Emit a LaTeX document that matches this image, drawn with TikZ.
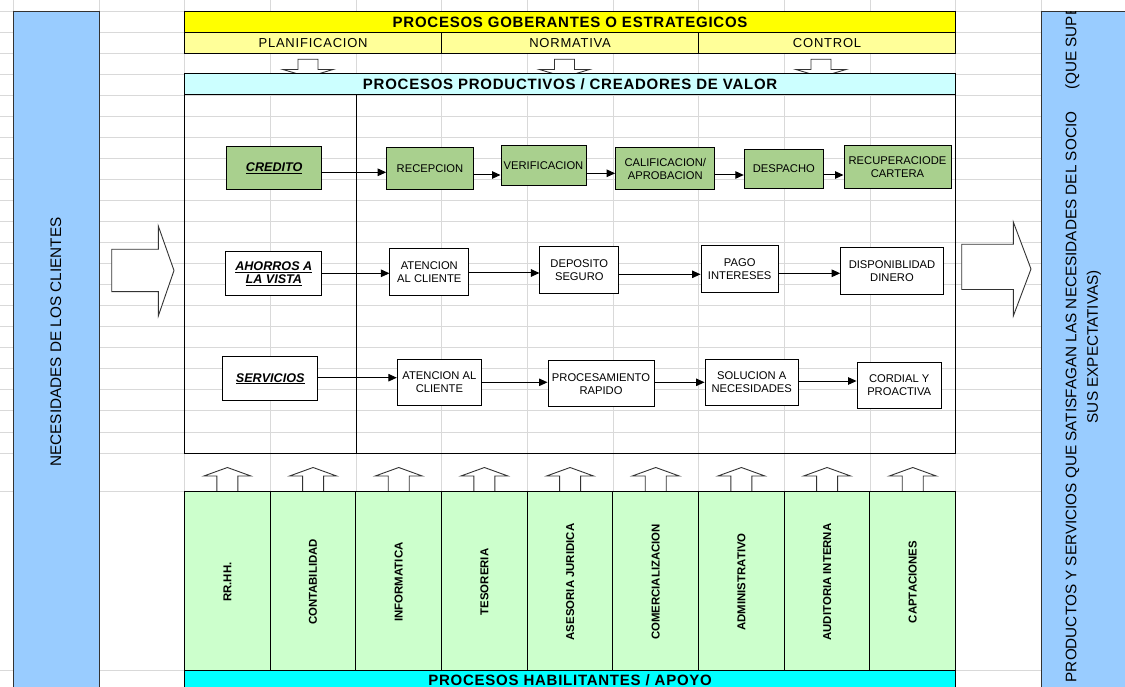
\documentclass[tikz,border=0pt]{standalone}
\usepackage{fontspec}
\setmainfont{Liberation Sans}
\newfontfamily\trackfont[LetterSpace=5]{Liberation Sans}
\newfontfamily\midtrack[LetterSpace=6]{Liberation Sans}
\usetikzlibrary{arrows.meta}

\definecolor{sideblue}{HTML}{99CCFF}
\definecolor{govyellow}{HTML}{FFFF00}
\definecolor{paleyellow}{HTML}{FFFF99}
\definecolor{palecyan}{HTML}{CCFFFF}
\definecolor{brightcyan}{HTML}{00FFFF}
\definecolor{supportgreen}{HTML}{CCFFCC}
\definecolor{procgreen}{HTML}{A9D08E}

\tikzset{
  sheetgrid/.style={draw=gray!30, line width=0.9pt},
  cellbox/.style={draw=black, line width=1pt, inner sep=0pt},
  proc/.style={cellbox, align=center, font=\fontsize{11.2}{13}\selectfont},
  linebox/.style={cellbox, align=center, font=\fontsize{12.6}{13.5}\selectfont\bfseries\itshape},
  flow/.style={-{Triangle[length=8.5pt,width=7.5pt]}, line width=1pt},
  hollow/.style={draw=black!80, fill=white, line width=0.9pt, line join=miter},
  sidetext/.style={rotate=90, inner sep=0pt, font=\fontsize{15.3}{18}\selectfont},
  supporttext/.style={rotate=90, inner sep=0pt, font=\fontsize{11.4}{13}\selectfont\bfseries},
  bartitle/.style={font=\fontsize{15}{17}\selectfont\trackfont\bfseries},
  subtitle/.style={font=\fontsize{13}{15}\selectfont\midtrack}
}

\begin{document}
\begin{tikzpicture}[x=1pt,y=-1pt]
\useasboundingbox (0,0) rectangle (1125,687);
\clip (0,0) rectangle (1125,687);
\fill[white] (0,0) rectangle (1125,687);

% worksheet gridlines
\foreach \k in {0,...,12}
  \draw[sheetgrid] ({13.3+85.67*\k},0) -- ({13.3+85.67*\k},687);
\foreach \yy in {11.7,32.5,53.3,74,491.7,670}
  \draw[sheetgrid] (0,\yy) -- (1125,\yy);
\foreach \i in {0,...,17}
  \draw[sheetgrid] (0,{95+21.06*\i}) -- (1125,{95+21.06*\i});

% side columns
\filldraw[fill=sideblue, draw=black!80, line width=1pt] (13.3,11.7) rectangle (99,700);
\node[sidetext] (clientes) at (55.8,342) {NECESIDADES DE LOS CLIENTES};

\filldraw[fill=sideblue, draw=black!80, line width=1pt] (1041.3,11.7) rectangle (1140,700);
\begin{scope}
  \clip (1041.3,11.7) rectangle (1140,700);
  \node[sidetext] (productos) at (1072.5,397)
    {PRODUCTOS Y SERVICIOS QUE SATISFAGAN LAS NECESIDADES DEL SOCIO};
  \node[sidetext, anchor=west] (supe) at (1072.5,90) {(QUE SUPE};
  \node[sidetext] (expectativas) at (1093.8,346.7) {SUS EXPECTATIVAS)};
\end{scope}

% governing processes
\node[cellbox, fill=govyellow, minimum width=771, minimum height=20.8, bartitle]
  (gob) at (570.1,22.1) {PROCESOS GOBERANTES O ESTRATEGICOS};
\node[cellbox, fill=paleyellow, minimum width=257, minimum height=20.8, subtitle]
  (planif) at (313.1,42.9) {PLANIFICACION};
\node[cellbox, fill=paleyellow, minimum width=257, minimum height=20.8, subtitle]
  (normativa) at (570.1,42.9) {NORMATIVA};
\node[cellbox, fill=paleyellow, minimum width=257, minimum height=20.8, subtitle]
  (control) at (827.1,42.9) {CONTROL};

% small down arrows into the value chain
\foreach \c in {308,564.5,821}
  \draw[hollow] (\c-10,59.3) -- (\c+10,59.3) -- (\c+10,69.5) -- (\c+25,69.5)
    -- (\c,77) -- (\c-25,69.5) -- (\c-10,69.5) -- cycle;

% value chain
\node[cellbox, fill=palecyan, minimum width=771, minimum height=21, bartitle]
  (productivos) at (570.1,84.5) {PROCESOS PRODUCTIVOS / CREADORES DE VALOR};
\node[cellbox, minimum width=771, minimum height=358] (valor) at (570.1,274) {};
\draw[line width=1pt] (356,95) -- (356,453);

% credit line
\node[linebox, fill=procgreen, minimum width=95, minimum height=42.6] (credito) at (274.2,168) {\underline{CREDITO}};
\node[proc, fill=procgreen, minimum width=86.6, minimum height=41.6] (recepcion) at (430,168.5) {RECEPCION};
\node[proc, fill=procgreen, minimum width=85, minimum height=40] (verificacion) at (543.5,166) {VERIFICACION};
\node[proc, fill=procgreen, minimum width=99.3, minimum height=42.3] (calificacion) at (665.3,168.8) {CALIFICACION/\\APROBACION};
\node[proc, fill=procgreen, minimum width=79, minimum height=39.4] (despacho) at (783.8,169) {DESPACHO};
\node[proc, fill=procgreen, minimum width=107, minimum height=43] (recuperacion) at (897.5,167.5) {RECUPERACIODE\\CARTERA};

% savings line
\node[linebox, fill=white, minimum width=95.7, minimum height=44] (ahorros) at (273.8,273.7) {\underline{AHORROS A}\\\underline{LA VISTA}};
\node[proc, fill=white, minimum width=78.7, minimum height=47.4] (atencionA) at (429.3,272) {ATENCION\\AL CLIENTE};
\node[proc, fill=white, minimum width=78.7, minimum height=47.3] (deposito) at (579.3,270.3) {DEPOSITO\\SEGURO};
\node[proc, fill=white, minimum width=77.3, minimum height=46.7] (pago) at (739.7,269.3) {PAGO\\INTERESES};
\node[proc, fill=white, minimum width=102.6, minimum height=46.7] (disponible) at (892,270.7) {DISPONIBLIDAD\\DINERO};

% services line
\node[linebox, fill=white, minimum width=94.5, minimum height=44] (servicios) at (270.2,378.7) {\underline{SERVICIOS}};
\node[proc, fill=white, minimum width=84.2, minimum height=45.7] (atencionS) at (439.4,382.2) {ATENCION AL\\CLIENTE};
\node[proc, fill=white, minimum width=106, minimum height=45.7] (procesamiento) at (601,383.8) {PROCESAMIENTO\\RAPIDO};
\node[proc, fill=white, minimum width=93.3, minimum height=45.7] (solucion) at (751.7,382.2) {SOLUCION A\\NECESIDADES};
\node[proc, fill=white, minimum width=84.3, minimum height=45.6] (cordial) at (899.2,385.5) {CORDIAL Y\\PROACTIVA};

% flows
\draw[flow] (credito.east |- 0,172.3) -- (recepcion.west |- 0,172.3);
\draw[flow] (recepcion.east |- 0,175) -- (verificacion.west |- 0,175);
\draw[flow] (verificacion.east |- 0,173.3) -- (calificacion.west |- 0,173.3);
\draw[flow] (calificacion.east |- 0,175) -- (despacho.west |- 0,175);
\draw[flow] (despacho.east |- 0,175) -- (recuperacion.west |- 0,175);

\draw[flow] (ahorros.east |- 0,273.3) -- (atencionA.west |- 0,273.3);
\draw[flow] (atencionA.east |- 0,273) -- (deposito.west |- 0,273);
\draw[flow] (deposito.east |- 0,274.3) -- (pago.west |- 0,274.3);
\draw[flow] (pago.east |- 0,273.3) -- (disponible.west |- 0,273.3);

\draw[flow] (servicios.east |- 0,377.7) -- (atencionS.west |- 0,377.7);
\draw[flow] (atencionS.east |- 0,382.3) -- (procesamiento.west |- 0,382.3);
\draw[flow] (procesamiento.east |- 0,382.3) -- (solucion.west |- 0,382.3);
\draw[flow] (solucion.east |- 0,381) -- (cordial.west |- 0,381);

% small up arrows from the support processes
\foreach \k in {0,...,8}
  \draw[hollow] ({227.4+85.67*\k-10.5},497) -- ({227.4+85.67*\k-10.5},476)
    -- ({227.4+85.67*\k-23.5},476) -- ({227.4+85.67*\k},467.5)
    -- ({227.4+85.67*\k+23.5},476) -- ({227.4+85.67*\k+10.5},476)
    -- ({227.4+85.67*\k+10.5},497);

% support processes
\foreach \k/\name/\txt in {0/rrhh/RR.HH., 1/contab/CONTABILIDAD, 2/inform/INFORMATICA,
    3/tesor/TESORERIA, 4/asesor/ASESORIA JURIDICA, 5/comerc/COMERCIALIZACION,
    6/admin/ADMINISTRATIVO, 7/audit/AUDITORIA INTERNA, 8/captac/CAPTACIONES} {
  \node[cellbox, fill=supportgreen, minimum width=85.67, minimum height=178.3]
    (\name) at ({227.4+85.67*\k},580.85) {};
  \node[supporttext] (\name-t) at ({227.4+85.67*\k},582) {\txt};
}

\node[cellbox, fill=brightcyan, minimum width=771, minimum height=21, bartitle]
  (habilitantes) at (570.1,680.5) {PROCESOS HABILITANTES / APOYO};

% large entry and exit arrows
\draw[hollow] (111.7,249.3) -- (158.3,249.3) -- (158.3,226) -- (174,270.5)
  -- (158.3,316) -- (158.3,291.7) -- (111.7,291.7) -- cycle;
\draw[hollow] (961.7,244.3) -- (1013.3,244.3) -- (1013.3,222) -- (1031,269)
  -- (1013.3,316) -- (1013.3,289.5) -- (961.7,289.5) -- cycle;
\end{tikzpicture}
\end{document}
